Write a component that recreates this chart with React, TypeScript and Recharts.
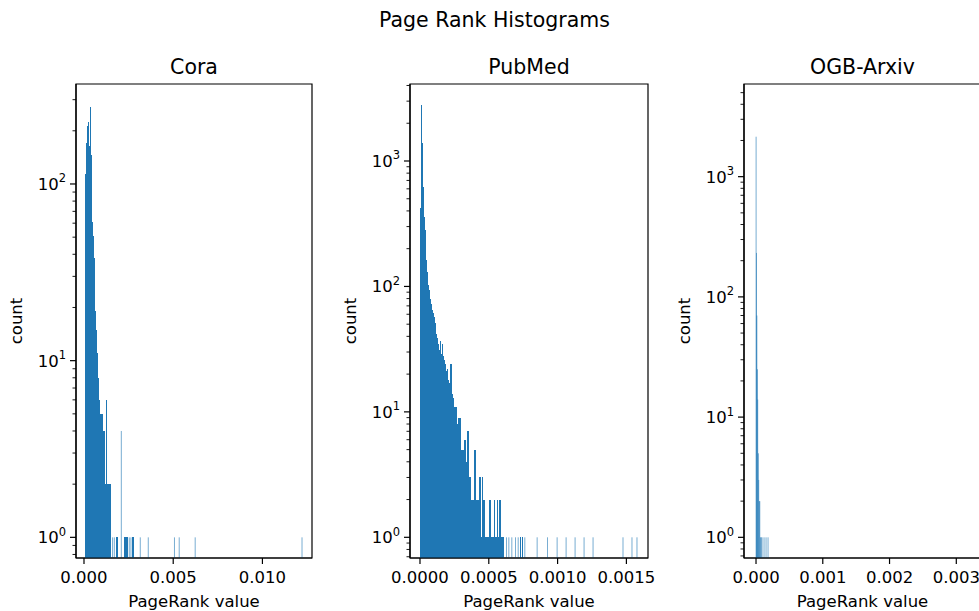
import { Bar, BarChart, ReferenceArea, XAxis, YAxis } from "recharts";

const FONT = "DejaVu Sans, Verdana, sans-serif";
const BLUE = "#1f77b4";

// Cora: PageRank bin value -> count
const coraValues = [
  0.000084, 0.000129, 0.000168, 0.000213, 0.000263, 0.000308, 0.000347, 0.000392, 0.000431,
  0.000476, 0.00052, 0.000571, 0.000616, 0.000672, 0.000728, 0.000767, 0.000812, 0.000868,
  0.000924, 0.000968, 0.001007, 0.001052, 0.001091, 0.001136, 0.001175, 0.00122, 0.001259,
  0.001315, 0.001371, 0.001427, 0.001466, 0.001606, 0.001696, 0.00183, 0.001886, 0.002088,
  0.002256, 0.002334, 0.00239, 0.002446, 0.002535, 0.002631, 0.002726, 0.002782, 0.003151,
  0.003599, 0.005065, 0.005334, 0.006229, 0.012218,
];
const coraCounts = [
  114, 136, 170, 214, 223, 165, 272, 145, 122, 61, 51, 38, 19, 15, 11, 10, 8, 6, 5, 5, 5, 3, 4, 4,
  2, 2, 6, 2, 2, 2, 2, 1, 1, 1, 1, 4, 1, 1, 1, 1, 1, 1, 1, 1, 1, 1, 1, 1, 1, 1,
];

// PubMed
const pubmedValues = [
  0.0000036, 0.0000094, 0.0000145, 0.0000196, 0.0000247, 0.0000305, 0.0000377, 0.000045,
  0.0000522, 0.0000595, 0.0000668, 0.000074, 0.0000813, 0.0000885, 0.0000958, 0.000103,
  0.0001103, 0.0001176, 0.0001248, 0.0001321, 0.0001393, 0.0001466, 0.0001538, 0.0001611,
  0.0001684, 0.0001756, 0.0001829, 0.0001901, 0.0001974, 0.0002046, 0.0002119, 0.0002192,
  0.0002264, 0.0002337, 0.0002409, 0.0002482, 0.0002554, 0.0002627, 0.00027, 0.0002772,
  0.0002845, 0.0002917, 0.000299, 0.0003062, 0.0003135, 0.0003208, 0.000328, 0.0003353,
  0.0003425, 0.0003498, 0.000357, 0.0003643, 0.0003716, 0.0003788, 0.0003861, 0.0003933,
  0.0004006, 0.0004078, 0.0004151, 0.0004224, 0.0004282, 0.0004354, 0.0004427, 0.000455,
  0.0004608, 0.0004681, 0.0004739, 0.000479, 0.0004862, 0.0004935, 0.0005007, 0.000508,
  0.0005152, 0.0005225, 0.0005298, 0.0005407, 0.0005479, 0.0005552, 0.000561, 0.0005682,
  0.0005806, 0.0005878, 0.0005951, 0.0006023, 0.0006292, 0.0006459, 0.0006676, 0.0006945,
  0.0007134, 0.0007329, 0.0007438, 0.000762, 0.0008512, 0.0009267, 0.0009964, 0.0010617,
  0.001127, 0.0011923, 0.0012576, 0.0014753, 0.0015406, 0.0015769,
];
const pubmedCounts = [
  420, 2800, 1390, 930, 625, 360, 282, 163, 131, 103, 94, 80, 73, 65, 61, 57, 51, 42, 39, 35, 31,
  37, 29, 35, 28, 26, 24, 21, 22, 18, 17, 15, 24, 14, 13, 11, 10, 11, 8, 8, 9, 9, 5, 4, 5, 3, 6, 4,
  3, 7, 3, 3, 2, 2, 2, 2, 5, 2, 2, 2, 1, 3, 1, 3, 2, 2, 1, 1, 1, 1, 1, 2, 1, 1, 1, 2, 1, 1, 2, 1,
  2, 1, 1, 1, 1, 1, 1, 1, 1, 1, 1, 1, 1, 1, 1, 1, 1, 1, 1, 1, 1, 1,
];

// OGB-Arxiv
const ogbValues = [
  0.000001, 0.000008, 0.000013, 0.00002, 0.000026, 0.000034, 0.000041, 0.000049, 0.000057,
  0.000066, 0.000078, 0.00009, 0.00012, 0.00015, 0.00018,
];
const ogbCounts = [2150, 232, 70, 25, 14, 5, 3, 2, 2, 1, 1, 1, 1, 1, 1];

const coraXTicks = [0, 0.005, 0.01];
const coraXLabels = ["0.000", "0.005", "0.010"];
const pubmedXTicks = [0, 0.0005, 0.001, 0.0015];
const pubmedXLabels = ["0.0000", "0.0005", "0.0010", "0.0015"];
const ogbXTicks = [0, 0.001, 0.002, 0.003];
const ogbXLabels = ["0.000", "0.001", "0.002", "0.003"];

const titles = ["Cora", "PubMed", "OGB-Arxiv"];

// all 1..9 x 10^k ticks inside the y range (majors get labels)
function logTicks(lo: number, hi: number) {
  const out: number[] = [];
  for (let e = -1; e <= 4; e++) {
    for (let m = 1; m < 10; m++) {
      const v = m * Math.pow(10, e);
      if (v >= lo && v <= hi) out.push(v);
    }
  }
  return out;
}

function YTick(props: any) {
  const { x, y, payload } = props;
  const lg = Math.log10(payload.value);
  const e = Math.round(lg);
  const major = Math.abs(lg - e) < 1e-6;
  const len = major ? 6 : 3.5;
  return (
    <g>
      <line x1={x - len} x2={x} y1={y} y2={y} stroke="#000" strokeWidth={major ? 1.2 : 0.9} />
      {major && (
        <text x={x - 10} y={y + 6} textAnchor="end" fontSize={16.5} fontFamily={FONT} fill="#000">
          <tspan>10</tspan>
          <tspan dy={-7.5} fontSize={11.5}>
            {e}
          </tspan>
        </text>
      )}
    </g>
  );
}

function makeXTick(ticks: number[], labels: string[]) {
  return (props: any) => {
    const { x, y, payload } = props;
    const i = ticks.findIndex((t) => Math.abs(t - payload.value) < 1e-12);
    return (
      <g>
        <line x1={x} x2={x} y1={y} y2={y + 6} stroke="#000" strokeWidth={1.2} />
        <text x={x} y={y + 25} textAnchor="middle" fontSize={16.5} fontFamily={FONT} fill="#000">
          {labels[i] ?? ""}
        </text>
      </g>
    );
  };
}

// bins packed next to each other read as a solid block; a lone narrow bin
// is drawn thin and soft, like matplotlib's sub-pixel bars
function thinBar(values: number[], w: number, lone: number) {
  return (p: any) => {
    const i = p.index;
    const prev = i > 0 ? values[i] - values[i - 1] : Infinity;
    const next = i < values.length - 1 ? values[i + 1] - values[i] : Infinity;
    const isolated = Math.min(prev, next) > lone;
    const cx = p.x + p.width / 2;
    const top = Math.min(p.y, p.y + p.height);
    const bw = isolated ? 0.8 : w;
    return (
      <rect
        x={cx - bw / 2}
        y={top}
        width={bw}
        height={Math.abs(p.height)}
        fill={BLUE}
        fillOpacity={isolated ? 0.75 : 1}
        shapeRendering={isolated ? "auto" : "crispEdges"}
      />
    );
  };
}

type PanelProps = {
  values: number[];
  counts: number[];
  left: number;
  plotW: number;
  xDomain: [number, number];
  yDomain: [number, number];
  xTicks: number[];
  xLabels: string[];
  barW: number;
  lone: number;
};

const TOP = 84;
const BOTTOM = 558;
const AXIS_W = 76;

function Panel({ values, counts, left, plotW, xDomain, yDomain, xTicks, xLabels, barW, lone }: PanelProps) {
  const data = values.map((v, i) => ({ v, count: counts[i] }));
  const width = AXIS_W + plotW + 10;
  return (
    <div style={{ position: "absolute", left, top: 0 }}>
      <BarChart
        width={width}
        height={611}
        data={data}
        margin={{ top: TOP, right: 10, bottom: 0, left: 0 }}
        barCategoryGap="10%"
      >
        <XAxis
          dataKey="v"
          type="number"
          domain={xDomain}
          allowDataOverflow
          ticks={xTicks}
          interval={0}
          height={611 - BOTTOM}
          tickSize={0}
          tickMargin={0}
          tickLine={false}
          axisLine={{ stroke: "#000", strokeWidth: 1.2 }}
          tick={makeXTick(xTicks, xLabels)}
        />
        <YAxis
          type="number"
          scale="log"
          domain={yDomain}
          allowDataOverflow
          ticks={logTicks(yDomain[0], yDomain[1])}
          interval={0}
          width={AXIS_W}
          tickSize={0}
          tickMargin={0}
          tickLine={false}
          axisLine={{ stroke: "#000", strokeWidth: 1.2 }}
          tick={<YTick />}
        />
        <Bar dataKey="count" isAnimationActive={false} shape={thinBar(values, barW, lone)} />
        <ReferenceArea
          x1={xDomain[0]}
          x2={xDomain[1]}
          y1={yDomain[0]}
          y2={yDomain[1]}
          fill="none"
          fillOpacity={0}
          stroke="#000"
          strokeWidth={1.2}
          ifOverflow="visible"
        />
      </BarChart>
    </div>
  );
}

const frames = [
  { left: 76, w: 236 },
  { left: 410, w: 238 },
  { left: 744, w: 237 },
];

export default function App() {
  return (
    <div
      style={{
        position: "fixed",
        left: 0,
        top: 0,
        width: 979,
        height: 611,
        overflow: "hidden",
        background: "#fff",
        fontFamily: FONT,
      }}
    >
      <Panel
        values={coraValues}
        counts={coraCounts}
        left={frames[0].left - AXIS_W}
        plotW={frames[0].w}
        xDomain={[-0.000448, 0.012778]}
        yDomain={[0.764, 368]}
        xTicks={coraXTicks}
        xLabels={coraXLabels}
        barW={1.3}
        lone={0.00008}
      />
      <Panel
        values={pubmedValues}
        counts={pubmedCounts}
        left={frames[1].left - AXIS_W}
        plotW={frames[1].w}
        xDomain={[-0.0000726, 0.001657]}
        yDomain={[0.684, 4110]}
        xTicks={pubmedXTicks}
        xLabels={pubmedXLabels}
        barW={1.3}
        lone={0.000011}
      />
      <Panel
        values={ogbValues}
        counts={ogbCounts}
        left={frames[2].left - AXIS_W}
        plotW={frames[2].w}
        xDomain={[-0.00018, 0.00337]}
        yDomain={[0.673, 5900]}
        xTicks={ogbXTicks}
        xLabels={ogbXLabels}
        barW={0.7}
        lone={0}
      />
      <svg
        width={979}
        height={611}
        style={{ position: "absolute", left: 0, top: 0, pointerEvents: "none" }}
        fontFamily={FONT}
      >
        <text x={494.5} y={27} textAnchor="middle" fontSize={20.5} fill="#000">
          Page Rank Histograms
        </text>
        {frames.map((f, i) => (
          <g key={titles[i]}>
            <text x={f.left + f.w / 2} y={74} textAnchor="middle" fontSize={20.5} fill="#000">
              {titles[i]}
            </text>
            <text x={f.left + f.w / 2} y={607} textAnchor="middle" fontSize={16.5} fill="#000">
              PageRank value
            </text>
            <text
              x={f.left - 54}
              y={321}
              textAnchor="middle"
              fontSize={16.5}
              fill="#000"
              transform={`rotate(-90 ${f.left - 54} 321)`}
            >
              count
            </text>
          </g>
        ))}
      </svg>
    </div>
  );
}
